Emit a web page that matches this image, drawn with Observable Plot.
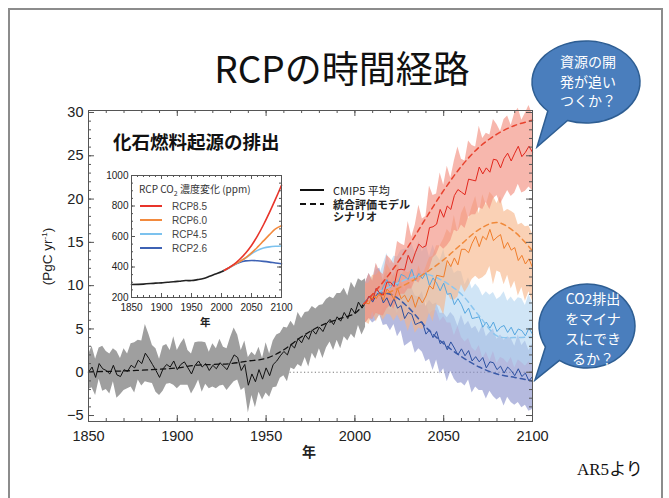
<!DOCTYPE html>
<html><head><meta charset="utf-8">
<script src="https://cdn.jsdelivr.net/npm/d3@7"></script>
<script src="https://cdn.jsdelivr.net/npm/@observablehq/plot@0.6"></script>
<style>
body{margin:0;background:#fff;}
#wrap{position:relative;width:669px;height:498px;overflow:hidden;background:#fff;font-family:"Liberation Sans",Arial,sans-serif;color:#222;}
.abs{position:absolute;white-space:nowrap;}
.jp{font-family:"Noto Sans CJK JP","Liberation Sans",sans-serif;}
</style></head><body><div id="wrap"></div>
<script>
// ---------- data (PgC/yr) ----------
const histYears = d3.range(1850, 2007, 2);
const histMean = [0.0,0.6,-0.6,1.0,0.4,0.2,-0.2,0.8,-0.3,-0.5,
  0.3,0.1,0.8,0.5,1.4,1.0,2.2,1.6,0.9,0.2,
  -0.6,0.4,0.9,0.6,1.3,0.3,0.9,1.2,0.5,-0.2,
  0.8,1.3,0.6,1.0,0.2,0.8,0.4,1.1,0.7,0.3,
  1.2,2.0,1.7,0.2,0.9,-1.5,-0.2,-1.1,0.3,-0.8,
  0.5,-0.4,0.9,1.3,1.9,2.4,2.0,3.2,2.8,3.9,
  3.4,4.3,3.8,4.9,4.4,5.2,4.7,5.6,6.1,5.5,
  6.4,5.9,6.9,6.2,7.4,6.8,8.1,7.4,8.0];
const histSpread = [2.0,2.4,2.1,1.8,2.6,2.2,2.3,1.9,2.7,2.1,
  2.4,2.0,2.5,2.9,2.3,2.6,3.3,2.8,2.2,2.5,
  2.1,2.6,2.3,1.9,2.8,2.2,2.4,2.7,2.0,2.3,
  2.6,2.2,2.9,2.4,2.1,2.5,2.3,2.7,2.2,2.4,
  2.8,3.1,2.6,2.3,2.7,3.2,2.5,3.0,2.6,2.4,
  2.9,2.5,2.7,3.0,2.6,2.8,3.1,2.7,2.5,3.0,
  2.8,2.6,3.2,2.7,2.9,2.5,3.1,2.8,2.6,3.0,
  2.7,3.2,2.8,2.6,3.0,2.9,2.7,3.1,2.8];
const iamHistYears = [1850,1870,1890,1900,1910,1920,1930,1940,1950,1960,1970,1980,1990,2000,2005];
const iamHist = [0.05,0.15,0.35,0.5,0.8,0.9,1.0,1.3,1.6,2.6,4.1,5.3,6.1,6.8,7.9];

const futYears = d3.range(2006, 2101, 2);
const rcp85Mean = [8.0,8.8,8.3,9.7,9.1,8.9,10.4,10.4,9.9,11.8,
  11.9,11.8,13.5,12.6,13.8,14.8,14.4,14.6,16.7,16.8,
  17.1,18.8,17.9,19.2,18.8,20.4,21.1,20.8,20.5,22.3,
  22.2,22.1,23.7,22.9,23.6,23.1,24.6,24.5,23.6,24.7,
  25.3,24.4,25.3,26.1,24.9,25.4,26.1,25.4];
const rcp85Spread = [2.3,2.6,2.2,2.9,2.5,2.4,3.1,2.7,2.6,3.3,
  2.9,2.8,3.9,3.0,3.2,4.5,3.3,3.4,4.8,3.6,
  3.5,4.2,3.7,4.6,3.6,4.0,4.9,3.8,3.9,4.4,
  4.0,3.9,4.7,4.1,4.0,4.3,4.6,4.1,4.2,4.5,
  4.3,4.1,4.6,4.4,4.2,4.5,4.7,4.4];
const rcp60Mean = [8.0,7.9,9.1,8.5,9.2,8.3,9.6,9.2,8.4,9.7,
  8.5,8.9,8.1,8.9,7.5,8.7,8.0,8.8,10.0,9.6,
  11.2,11.1,11.0,12.9,12.2,13.2,12.4,14.2,14.2,13.8,
  14.9,15.7,14.5,15.7,15.3,16.5,15.2,15.6,15.9,14.3,
  15.0,14.1,14.4,12.9,13.5,12.5,13.1,12.1];
const rcp60Spread = [2.2,2.4,2.1,2.7,2.5,2.3,2.9,2.6,2.5,3.1,
  2.7,2.8,3.4,2.9,3.0,3.6,3.1,3.3,3.2,3.8,
  3.4,3.5,4.4,3.6,3.8,4.9,3.7,4.1,5.0,3.9,
  4.2,4.6,3.8,4.8,4.0,4.3,5.1,3.9,4.4,4.2,
  3.8,4.5,3.9,4.1,3.7,4.3,3.8,3.9];
const rcp45Mean = [8.0,8.8,8.5,9.7,8.9,9.9,10.7,9.8,10.5,10.0,
  11.3,11.1,10.7,11.9,10.6,11.4,10.8,11.5,10.0,10.9,
  10.3,9.4,10.3,9.0,9.1,7.8,8.5,7.8,6.8,7.4,
  6.2,6.3,6.4,5.2,5.8,5.1,5.8,4.7,5.2,5.4,
  4.6,5.2,4.3,5.0,4.8,4.2,5.1,4.4];
const rcp45Spread = [2.2,2.5,2.3,2.8,2.4,2.6,3.0,2.7,2.9,3.3,
  2.8,3.1,3.5,3.0,3.2,3.7,3.1,3.4,3.3,3.8,
  3.2,3.5,3.9,3.3,3.4,3.6,3.2,3.8,3.3,3.5,
  3.4,3.9,3.3,3.6,3.5,3.8,3.4,3.7,3.5,3.9,
  3.6,3.5,3.8,3.6,3.7,3.5,3.9,3.6];
const rcp26Mean = [8.0,8.8,8.1,8.9,9.3,8.0,8.6,7.6,8.5,7.4,
  7.7,6.2,6.9,6.7,5.5,5.7,5.8,4.4,4.9,4.0,
  4.7,3.3,3.6,2.6,3.5,2.8,2.0,2.7,1.9,2.5,
  1.3,1.8,1.2,1.7,0.5,1.2,1.1,0.3,0.7,-0.1,
  0.6,0.2,-0.4,0.4,-0.5,-0.1,-1.0,-0.5];
const rcp26Spread = [2.3,2.6,2.4,2.9,2.7,2.6,3.1,2.8,3.0,3.3,
  2.9,3.2,3.6,3.1,3.3,3.0,3.5,3.2,3.4,3.8,
  3.3,3.5,3.2,3.7,3.4,3.6,3.3,3.9,3.5,3.4,
  3.7,3.5,3.3,3.8,3.6,3.4,3.9,3.5,3.6,3.8,
  3.5,3.7,3.4,3.9,3.6,3.7,3.5,3.8];

const iamYears = [2005,2010,2020,2030,2040,2050,2060,2070,2080,2090,2100];
const iam85 = [7.9,9.0,11.5,14.5,17.8,21.0,23.8,26.0,27.5,28.5,29.1];
const iam60 = [7.9,8.6,9.3,10.3,11.5,13.0,14.8,16.5,17.3,16.2,14.0];
const iam45 = [7.9,8.9,9.9,10.8,11.3,10.5,9.0,6.5,4.2,4.0,4.1];
const iam26 = [7.9,8.9,9.0,7.5,5.2,3.3,1.8,0.6,-0.2,-0.6,-1.0];

// inset CO2 concentration (ppm)
const co2HistYears = [1850,1870,1890,1900,1910,1920,1930,1940,1950,1960,1970,1980,1990,2000,2005];
const co2Hist = [285,288,294,296,300,303,307,311,311,317,325,339,354,369,379];
const co2Years = [2005,2010,2020,2030,2040,2050,2060,2070,2080,2090,2100];
const co2_85 = [379,390,415,449,490,541,604,677,758,845,936];
const co2_60 = [379,390,412,435,460,492,530,571,612,650,670];
const co2_45 = [379,390,412,435,459,487,509,524,532,536,538];
const co2_26 = [379,389,412,430,440,443,441,437,432,426,421];

const scenarios = ["RCP8.5","RCP6.0","RCP4.5","RCP2.6"];
const xTicks = [1850,1900,1950,2000,2050,2100];
const yTicks = [-5,0,5,10,15,20,25,30];
const insetYTicks = [200,400,600,800,1000];

// ---------- styling ----------
const lineCol = {"RCP8.5":"#e2261c","RCP6.0":"#f07d2a","RCP4.5":"#56a7e0","RCP2.6":"#2b4fa0"};
const bandCol = {"RCP8.5":"#f28b7a","RCP6.0":"#f7b587","RCP4.5":"#b3d5f0","RCP2.6":"#8890cc"};
const dashCol = {"RCP8.5":"#e8432f","RCP6.0":"#f0893a","RCP4.5":"#8cc6ef","RCP2.6":"#3a5aa8"};
const inCol  = {"RCP8.5":"#e8342a","RCP6.0":"#f28a3e","RCP4.5":"#7cc2ee","RCP2.6":"#3e62b4"};

const rows = (ys, m, s) => ys.map((year,i)=>({year, mean:m[i], lo:m[i]-s[i], hi:m[i]+s[i]}));
const hist = rows(histYears, histMean, histSpread);
const fut = {
  "RCP8.5": rows(futYears, rcp85Mean, rcp85Spread),
  "RCP6.0": rows(futYears, rcp60Mean, rcp60Spread),
  "RCP4.5": rows(futYears, rcp45Mean, rcp45Spread),
  "RCP2.6": rows(futYears, rcp26Mean, rcp26Spread)
};
const iam = {"RCP8.5":iam85,"RCP6.0":iam60,"RCP4.5":iam45,"RCP2.6":iam26};
const co2 = {"RCP8.5":co2_85,"RCP6.0":co2_60,"RCP4.5":co2_45,"RCP2.6":co2_26};

const wrap = document.getElementById("wrap");

// ---------- main chart ----------
const M = {left:88, right:137, top:110, bottom:77, W:669, H:498};
const FW = M.W - M.left - M.right, FH = M.H - M.top - M.bottom;
const xMinor = d3.range(1850, 2101, 10), yMinor = d3.range(-5, 31, 1);
const tickCol = "#555";
const inwardTicks = (xMaj, xMin, yMaj, yMin, fw, fh, maj, min) => [
  Plot.ruleX(xMin, {x:d=>d, insetTop: fh-min, stroke:tickCol}),
  Plot.ruleX(xMin, {x:d=>d, insetBottom: fh-min, stroke:tickCol}),
  Plot.ruleX(xMaj, {x:d=>d, insetTop: fh-maj, stroke:tickCol}),
  Plot.ruleX(xMaj, {x:d=>d, insetBottom: fh-maj, stroke:tickCol}),
  Plot.ruleY(yMin, {y:d=>d, insetRight: fw-min, stroke:tickCol}),
  Plot.ruleY(yMin, {y:d=>d, insetLeft: fw-min, stroke:tickCol}),
  Plot.ruleY(yMaj, {y:d=>d, insetRight: fw-maj, stroke:tickCol}),
  Plot.ruleY(yMaj, {y:d=>d, insetLeft: fw-maj, stroke:tickCol})
];

const marks = [];
marks.push(Plot.ruleY([0], {stroke:"#777", strokeDasharray:"1.2,2.4", strokeWidth:1}));
marks.push(Plot.areaY(hist, {x:"year", y1:"lo", y2:"hi", fill:"#9f9f9f"}));
for (const k of ["RCP2.6","RCP4.5","RCP6.0","RCP8.5"]) {
  marks.push(Plot.areaY(fut[k], {x:"year", y1:"lo", y2:"hi", fill:bandCol[k], fillOpacity:0.62}));
}
marks.push(Plot.line(iamHistYears.map((year,i)=>({year, v:iamHist[i]})), {x:"year", y:"v", stroke:"#111", strokeWidth:1.3, strokeDasharray:"5,4", curve:"catmull-rom"}));
marks.push(Plot.line(hist, {x:"year", y:"mean", stroke:"#111", strokeWidth:1}));
for (const k of ["RCP2.6","RCP4.5","RCP6.0","RCP8.5"]) {
  marks.push(Plot.line(fut[k], {x:"year", y:"mean", stroke:lineCol[k], strokeWidth:1}));
  marks.push(Plot.line(iamYears.map((year,i)=>({year, v:iam[k][i]})), {x:"year", y:"v", stroke:dashCol[k], strokeWidth:1.5, strokeDasharray:"5,4", curve:"catmull-rom"}));
}
marks.push(...inwardTicks(xTicks, xMinor, yTicks, yMinor, FW, FH, 6, 3));
marks.push(Plot.frame({stroke:"#555"}));

const main = Plot.plot({
  width:M.W, height:M.H, marginLeft:M.left, marginRight:M.right, marginTop:M.top, marginBottom:M.bottom,
  x:{domain:[1850,2100], ticks:xTicks, tickFormat:"d", tickSize:0, tickPadding:9, label:null},
  y:{domain:[-5.69,30.23], ticks:yTicks, tickFormat:"d", tickSize:0, tickPadding:5, label:null},
  style:{fontSize:"14.5px", fontFamily:"'Liberation Sans',Arial,sans-serif", color:"#222", background:"transparent", overflow:"visible"},
  marks
});
main.style.position="absolute"; main.style.left="0px"; main.style.top="0px";
wrap.appendChild(main);

// ---------- inset chart ----------
const I = {left:35, right:5, top:5, bottom:35, W:190, H:162};
const IFW = I.W - I.left - I.right, IFH = I.H - I.top - I.bottom;
const imarks = [Plot.frame({fill:"white", stroke:"none"})];
imarks.push(Plot.line(co2HistYears.map((year,i)=>({year,v:co2Hist[i]})), {x:"year", y:"v", stroke:"#222", strokeWidth:1.6, curve:"catmull-rom"}));
for (const k of ["RCP2.6","RCP4.5","RCP6.0","RCP8.5"]) {
  imarks.push(Plot.line(co2Years.map((year,i)=>({year,v:co2[k][i]})), {x:"year", y:"v", stroke:inCol[k], strokeWidth:1.6, curve:"catmull-rom"}));
}
imarks.push(...inwardTicks(xTicks, d3.range(1850,2101,10), insetYTicks, d3.range(200,1001,50), IFW, IFH, 4, 2));
imarks.push(Plot.frame({stroke:"#555"}));
const inset = Plot.plot({
  width:I.W, height:I.H, marginLeft:I.left, marginRight:I.right, marginTop:I.top, marginBottom:I.bottom,
  x:{domain:[1850,2100], ticks:xTicks, tickFormat:"d", tickSize:0, tickPadding:6, label:null},
  y:{domain:[200,1000], ticks:insetYTicks, tickFormat:"d", tickSize:0, tickPadding:3, label:null},
  style:{fontSize:"10px", fontFamily:"'Liberation Sans',Arial,sans-serif", color:"#222", background:"transparent", overflow:"visible"},
  marks: imarks
});
inset.style.position="absolute"; inset.style.left="96px"; inset.style.top="170px";
wrap.appendChild(inset);

// ---------- text & decorations ----------
// centerY is the centre of the first line
function addText(html, left, centerY, size, extra) {
  const d = document.createElement("div");
  d.className = "abs " + (extra && extra.cls || "");
  d.innerHTML = html;
  const lh = (extra && extra.lh) || size*1.3;
  d.style.fontSize = size + "px";
  d.style.lineHeight = lh + "px";
  d.style.left = left + "px";
  d.style.top = (centerY - lh/2) + "px";
  if (extra && extra.style) Object.assign(d.style, extra.style);
  wrap.appendChild(d);
  return d;
}
// slide border
const border = document.createElement("div");
Object.assign(border.style, {position:"absolute", left:"8px", top:"8px", width:"651px", height:"520px", border:"2px solid #8c8c8c"});
wrap.appendChild(border);

addText("RCPの時間経路", 0, 67, 37, {cls:"jp", style:{width:"684px", textAlign:"center", color:"#111"}});
addText("化石燃料起源の排出", 113, 141, 18.5, {cls:"jp", style:{fontWeight:"bold", color:"#111"}});
addText("(PgC yr<sup style='font-size:8px;vertical-align:5px'>-1</sup>)", 4, 256, 13.5, {lh:17, style:{width:"80px", textAlign:"center", transform:"rotate(-90deg)", transformOrigin:"40px 8.5px"}});
addText("年", 302, 451, 14, {cls:"jp", style:{fontWeight:"bold"}});
addText("年", 200, 321, 10.5, {cls:"jp", lh:11, style:{fontWeight:"bold"}});
addText("RCP CO<sub style='font-size:7px'>2</sub> 濃度変化 (ppm)", 139, 188, 10, {cls:"jp", style:{color:"#333"}});
scenarios.forEach((k,i)=>{
  const y = 206 + i*14;
  addText(`<svg width="22" height="4" style="display:block"><line x1="0" y1="2" x2="22" y2="2" stroke="${inCol[k]}" stroke-width="2"/></svg>`, 140, y, 4, {lh:4});
  addText(k, 172, y, 10, {lh:11, style:{color:"#444"}});
});
// main legend
addText(`<svg width="24" height="4" style="display:block"><line x1="0" y1="2" x2="24" y2="2" stroke="#111" stroke-width="2"/></svg>`, 300, 190, 4, {lh:4});
addText(`<svg width="24" height="4" style="display:block"><line x1="0" y1="2" x2="24" y2="2" stroke="#111" stroke-width="2" stroke-dasharray="6,4"/></svg>`, 300, 204, 4, {lh:4});
addText("CMIP5 平均", 333, 190, 11, {cls:"jp", lh:12, style:{color:"#222"}});
addText("統合評価モデル<br>シナリオ", 333, 204, 11, {cls:"jp", lh:12.5, style:{color:"#222", fontWeight:"bold"}});
addText("AR5<span style='font-family:\"Noto Sans CJK JP\"'>より</span>", 577, 468, 17, {style:{fontFamily:"'Liberation Serif',serif", color:"#111"}});

// speech bubbles
function ell(cx, cy, rx, ry, deg){ const a = deg*Math.PI/180; return [cx+rx*Math.cos(a), cy+ry*Math.sin(a)]; }
function bubble(cx, cy, rx, ry, a1, a2, tip){
  const p1 = ell(cx,cy,rx,ry,a1), p2 = ell(cx,cy,rx,ry,a2);
  return `M${p1[0]},${p1[1]} L${tip[0]},${tip[1]} L${p2[0]},${p2[1]} A${rx} ${ry} 0 1 1 ${p1[0]} ${p1[1]} Z`;
}
const svgNS = "http://www.w3.org/2000/svg";
const ov = document.createElementNS(svgNS, "svg");
ov.setAttribute("width", 669); ov.setAttribute("height", 498);
Object.assign(ov.style, {position:"absolute", left:"0px", top:"0px"});
ov.innerHTML = `
<path d="${bubble(586,82,54,41,110,135,[537,147])}" fill="#4a7ebd" stroke="#2e5e93" stroke-width="1.5"/>
<path d="${bubble(587,326,48,42,125,150,[535,380])}" fill="#4a7ebd" stroke="#2e5e93" stroke-width="1.5"/>`;
wrap.appendChild(ov);
addText("資源の開<br>発が追い<br>つくか？", 538, 62, 14, {cls:"jp", lh:19.5, style:{color:"#fff", width:"100px", textAlign:"center"}});
addText("CO2排出<br>をマイナ<br>スにでき<br>るか？", 543, 298, 14, {cls:"jp", lh:20, style:{color:"#fff", width:"100px", textAlign:"center"}});
</script></body></html>
